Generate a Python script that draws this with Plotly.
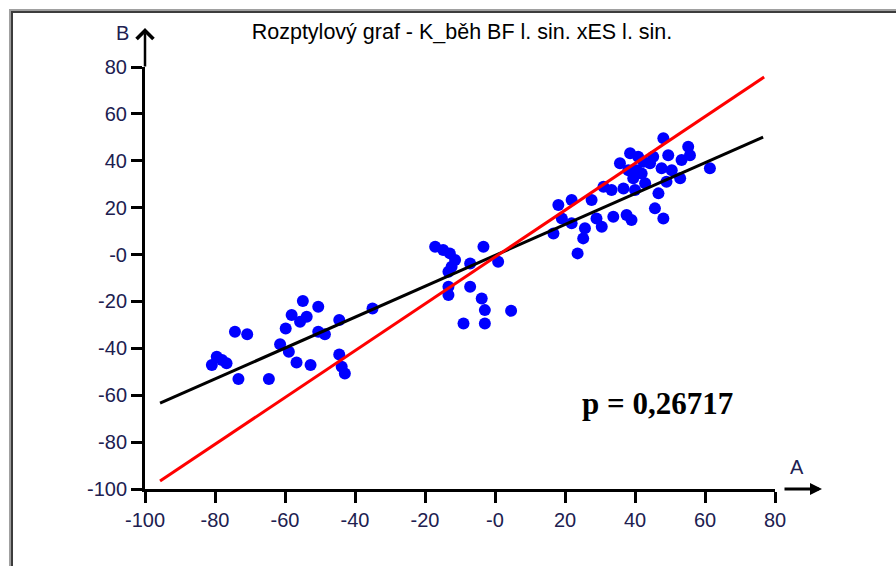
import plotly.graph_objects as go

# ---- data ----
point_x = [-80.9, -79.5, -76.7, -78.0, -73.3, -74.3, -70.8, -64.6, -61.4, -59.8, -58.9, -58.1,
           -54.9, -55.7, -53.8, -50.5, -56.7, -52.7, -50.5, -48.6, -44.5, -44.5, -43.8, -42.9,
           -35.0,
           -17.1, -14.8, -12.9, -11.4, -12.4, -13.3, -13.3, -13.3, -7.1, -7.1, -3.3, 0.9,
           -3.8, -2.9, -9.0, -2.9, 4.6,
           23.6, 25.2, 25.7, 16.7, 18.1, 19.1, 21.9, 21.9, 27.6, 29.0, 31.0, 30.5, 33.3, 33.8,
           35.7, 36.7, 38.6, 37.6, 39.5, 39.0, 40.0, 40.9, 41.9, 42.9, 44.3, 45.2, 46.7, 45.7,
           48.1, 48.1, 47.6, 49.0, 49.5, 50.5, 53.3, 52.9, 55.2, 55.7, 61.4, 38.1, 40.5, 42.4]
point_y = [-47.1, -43.6, -46.4, -45.0, -53.1, -32.9, -34.0, -53.1, -38.3, -31.5, -41.5, -25.8,
           -19.8, -28.7, -26.5, -22.3, -46.0, -47.1, -32.9, -34.0, -27.9, -42.6, -47.9, -50.7,
           -23.0,
           3.3, 1.9, 0.5, -2.3, -5.2, -7.3, -13.7, -17.3, -3.8, -13.7, 3.3, -3.1,
           -18.7, -23.7, -29.4, -29.4, -24.0,
           0.5, 6.9, 11.2, 9.0, 21.1, 15.4, 23.3, 13.3, 23.3, 15.4, 28.9, 11.9, 27.5, 16.1,
           38.9, 28.2, 43.2, 16.9, 32.5, 14.7, 27.5, 41.7, 34.6, 30.4, 38.9, 41.7, 26.1, 19.7,
           15.4, 49.6, 36.8, 31.1, 42.4, 36.0, 40.3, 32.5, 46.0, 42.4, 36.8, 36.0, 36.0, 39.6]

black_line_x = [-95.7, 76.6]
black_line_y = [-63.4, 50.1]
red_line_x = [-95.7, 76.9]
red_line_y = [-96.6, 75.7]

tick_vals = [-100, -80, -60, -40, -20, 0, 20, 40, 60, 80]
tick_text = ["-100", "-80", "-60", "-40", "-20", "-0", "20", "40", "60", "80"]

title_text = "Rozptylový graf - K_běh BF l. sin. xES l. sin."
p_text = "p = 0,26717"

# ---- figure ----
fig = go.Figure()
fig.add_trace(go.Scatter(x=point_x, y=point_y, mode="markers",
                         marker=dict(color="#0000ff", size=12, line=dict(width=0)),
                         showlegend=False, hoverinfo="skip"))
fig.add_trace(go.Scatter(x=black_line_x, y=black_line_y, mode="lines",
                         line=dict(color="#000000", width=3), showlegend=False))
fig.add_trace(go.Scatter(x=red_line_x, y=red_line_y, mode="lines",
                         line=dict(color="#ff0000", width=3), showlegend=False))

sans = "Liberation Sans, Arial, sans-serif"
tick_font = dict(family=sans, size=20, color="#202050")

axis_common = dict(range=[-100, 80], tickmode="array", tickvals=tick_vals, ticktext=tick_text,
                   showgrid=False, zeroline=False, showline=True, linecolor="#000000",
                   linewidth=3, ticks="outside", ticklen=11, tickwidth=3,
                   tickcolor="#000000", tickfont=tick_font, fixedrange=True)
fig.update_xaxes(**axis_common)
fig.update_yaxes(**axis_common)

annotations = [
    # y axis arrow
    dict(x=0, y=1.0924, xref="paper", yref="paper", ax=0, ay=40,
         text="", showarrow=True, arrowhead=4, arrowwidth=2.5, arrowsize=1.3, arrowcolor="#000000"),
    # x axis arrow
    dict(x=1.0746, y=0, xref="paper", yref="paper", ax=-39, ay=0,
         text="", showarrow=True, arrowhead=2, arrowwidth=3, arrowsize=0.8, arrowcolor="#000000"),
    dict(x=-0.0365, y=1.0806, xref="paper", yref="paper", text="B", showarrow=False,
         font=dict(family=sans, size=20, color="#202050"),
         xanchor="center", yanchor="middle"),
    dict(x=1.0349, y=0.0521, xref="paper", yref="paper", text="A", showarrow=False,
         font=dict(family=sans, size=20, color="#202050"),
         xanchor="center", yanchor="middle"),
    dict(x=46.3, y=-63.4, xref="x", yref="y", text="<b>" + p_text + "</b>", showarrow=False,
         font=dict(family="Liberation Serif, Times New Roman, serif", size=31, color="#000000"),
         xanchor="center", yanchor="middle"),
]

shapes = [
    dict(type="path", xref="paper", yref="paper",
         path="M -0.2143,-0.19 L -0.2143,1.1351 L 1.2,1.1351",
         line=dict(color="#a0a0a0", width=2)),
    dict(type="path", xref="paper", yref="paper",
         path="M -0.2111,-0.19 L -0.2111,1.1303 L 1.2,1.1303",
         line=dict(color="#3c3c3c", width=2)),
]

fig.update_layout(
    width=896, height=566,
    margin=dict(l=145, r=121, t=67, b=77, autoexpand=False),
    paper_bgcolor="#ffffff", plot_bgcolor="#ffffff",
    title=dict(text=title_text, x=462 / 896, xref="container", xanchor="center",
               y=1 - 31 / 566, yref="container", yanchor="middle",
               font=dict(family=sans, size=21.5, color="#000000")),
    annotations=annotations,
    shapes=shapes,
    showlegend=False,
)

fig.write_html("out.html", config={"displayModeBar": False},
               post_script="document.body.style.margin='0px';document.body.style.overflow='hidden';")
